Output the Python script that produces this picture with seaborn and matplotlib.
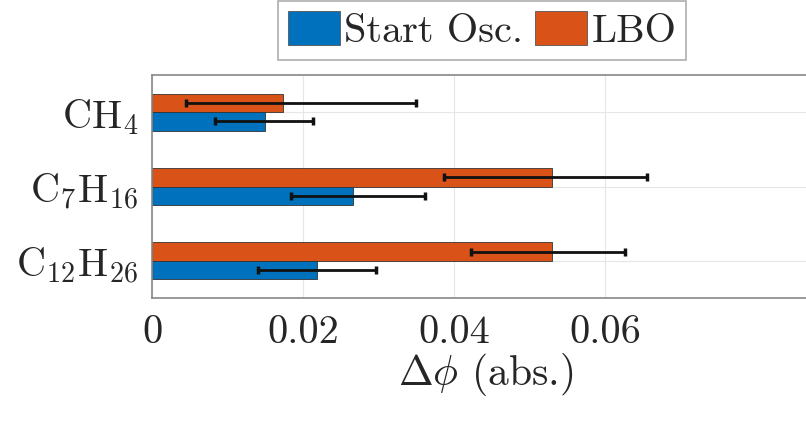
import numpy as np
import pandas as pd
import matplotlib
matplotlib.use("Agg")
import matplotlib.pyplot as plt
import seaborn as sns
from matplotlib.patches import Patch

# data
fuels = [r"$\mathrm{CH}_4$", r"$\mathrm{C}_7\mathrm{H}_{16}$", r"$\mathrm{C}_{12}\mathrm{H}_{26}$"]
start_osc = [0.0150, 0.0266, 0.0218]
start_low = [0.0084, 0.0184, 0.0140]
start_high = [0.0213, 0.0362, 0.0297]
lbo = [0.0173, 0.0530, 0.0530]
lbo_low = [0.0045, 0.0387, 0.0423]
lbo_high = [0.0350, 0.0655, 0.0627]
series = ["Start Osc.", "LBO"]
colors = {"Start Osc.": "#0072BD", "LBO": "#D95319"}

df = pd.DataFrame({
    "fuel": fuels * 2,
    "series": ["LBO"] * 3 + ["Start Osc."] * 3,
    "value": lbo + start_osc,
    "low": lbo_low + start_low,
    "high": lbo_high + start_high,
})

sns.set_style("white")
plt.rcParams["font.family"] = ["cmr10"]
plt.rcParams["mathtext.fontset"] = "cm"
plt.rcParams["axes.unicode_minus"] = False
plt.rcParams["axes.formatter.use_mathtext"] = True

fig = plt.figure(figsize=(8.06, 4.21), dpi=100)
ax = fig.add_axes([152 / 806, 123 / 421, 668 / 806, 223 / 421])

sns.barplot(data=df, y="fuel", x="value", hue="series", hue_order=["LBO", "Start Osc."],
            palette=colors, saturation=1, orient="h", errorbar=None, width=0.5, ax=ax,
            edgecolor="#333333", linewidth=0.6, legend=False)

# error bars at the bar centres that seaborn placed
for bar_group, s in zip(ax.containers, ["LBO", "Start Osc."]):
    sub = df[df.series == s]
    ys = [p.get_y() + p.get_height() / 2 for p in bar_group.patches]
    xs = sub["value"].to_numpy()
    err = np.vstack([xs - sub["low"].to_numpy(), sub["high"].to_numpy() - xs])
    ax.errorbar(xs, ys, xerr=err, fmt="none", ecolor="#111111", elinewidth=2,
                capsize=3, capthick=2.5, zorder=5)

ax.set_xlim(0, 668 / 7550)
ax.set_ylim(2.5, -0.5)
ax.set_xticks([0, 0.02, 0.04, 0.06])
ax.set_xticklabels(["0", "0.02", "0.04", "0.06"])
ax.set_ylabel("")
ax.set_xlabel(r"$\Delta\phi$ (abs.)", fontsize=30, labelpad=0)
ax.tick_params(axis="both", labelsize=29, direction="in", length=4, color="#777777")
ax.tick_params(axis="x", pad=12)
ax.tick_params(axis="y", pad=10)
ax.grid(True, color="#e6e6e6", linewidth=0.8)
ax.set_axisbelow(True)
for sp in ax.spines.values():
    sp.set_color("#888888")
    sp.set_linewidth(1.2)

handles = [Patch(facecolor=colors[s], edgecolor="#555555", linewidth=0.6) for s in series]
leg = fig.legend(handles, series, loc="upper center", bbox_to_anchor=(482 / 806, 1 - 1 / 421),
                 ncol=2, fontsize=29, frameon=True, fancybox=False, handlelength=1.3,
                 handleheight=0.9, handletextpad=0.1, columnspacing=0.3, borderpad=0.25,
                 borderaxespad=0)
leg.get_frame().set_edgecolor("#999999")
leg.get_frame().set_linewidth(1.2)

fig.savefig("out.png", dpi=100)
